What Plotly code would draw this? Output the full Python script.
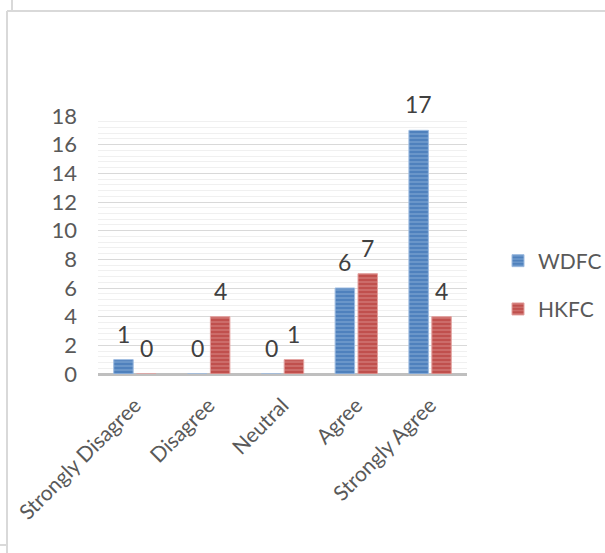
import plotly.graph_objects as go

# Survey responses per answer category
categories = ["Strongly Disagree", "Disagree", "Neutral", "Agree", "Strongly Agree"]
wdfc = [1, 0, 0, 6, 17]
hkfc = [0, 4, 1, 7, 4]
y_ticks = [0, 2, 4, 6, 8, 10, 12, 14, 16, 18]

W, H = 605, 553
L, R, T, B = 98, 467, 116, 374  # plot-area edges in pixels

x_pos = list(range(len(categories)))
bar_w = 0.264
off_w, off_h = -0.287, 0.023

font_family = "Lato, 'Open Sans', sans-serif"

fig = go.Figure()
series = [
    ("WDFC", wdfc, off_w, "#4F81BD", "#9DBBE0"),
    ("HKFC", hkfc, off_h, "#C0504D", "#E3A09E"),
]
for name, vals, off, base, light in series:
    fig.add_trace(go.Bar(
        name=name, x=x_pos, y=vals, width=bar_w, offset=off,
        legendgroup=name,
        marker=dict(
            color=base,
            line=dict(color=light, width=1),
            pattern=dict(shape="-", bgcolor=base, fgcolor=light,
                         size=4, solidity=0.35, fillmode="overlay"),
        ),
        hoverinfo="x+y",
    ))
    for xi, v in zip(x_pos, vals):
        fig.add_annotation(
            x=xi + off + bar_w / 2, y=v, text=str(v), showarrow=False,
            yanchor="middle", yshift=26,
            font=dict(family=font_family, size=23, color="#404040"),
        )


def px_x(p):
    return (p - L) / (R - L)


def px_y(p):
    return (B - p) / (B - T)


border = "#D9D9D9"
frame = [
    (7, 11, 605, 11),
    (7, 11, 7, 553),
    (12, 0, 12, 11),
    (0, 545, 7, 545),
]
for x0, y0, x1, y1 in frame:
    fig.add_shape(type="line", xref="paper", yref="paper",
                  x0=px_x(x0), y0=px_y(y0), x1=px_x(x1), y1=px_y(y1),
                  line=dict(color=border, width=2))

fig.update_layout(
    width=W, height=H,
    margin=dict(l=L, r=W - R, t=T, b=H - B, pad=0, autoexpand=False),
    paper_bgcolor="white", plot_bgcolor="white",
    font=dict(family=font_family, size=21, color="#595959"),
    barmode="overlay",
    showlegend=True,
    legend=dict(
        x=px_x(498), y=px_y(285), xanchor="left", yanchor="middle",
        font=dict(family=font_family, size=21, color="#595959"),
        tracegroupgap=18, itemwidth=30,
        bgcolor="rgba(0,0,0,0)",
    ),
    xaxis=dict(
        range=[-0.5, len(categories) - 0.5],
        tickvals=x_pos, ticktext=categories, tickangle=-45,
        showgrid=False, zeroline=False, showline=False,
        ticks="", ticklabelstandoff=14,
        tickfont=dict(family=font_family, size=21, color="#595959"),
    ),
    yaxis=dict(
        range=[0, 18], tickvals=y_ticks,
        showgrid=True, gridcolor="#D9D9D9", gridwidth=1,
        minor=dict(dtick=0.4, showgrid=True, gridcolor="#F0F0F0", gridwidth=1),
        zeroline=True, zerolinecolor="#BFBFBF", zerolinewidth=3,
        showline=False, ticks="", ticklabelstandoff=20,
        tickfont=dict(family=font_family, size=22, color="#595959"),
    ),
)

fig.write_html("out.html")
